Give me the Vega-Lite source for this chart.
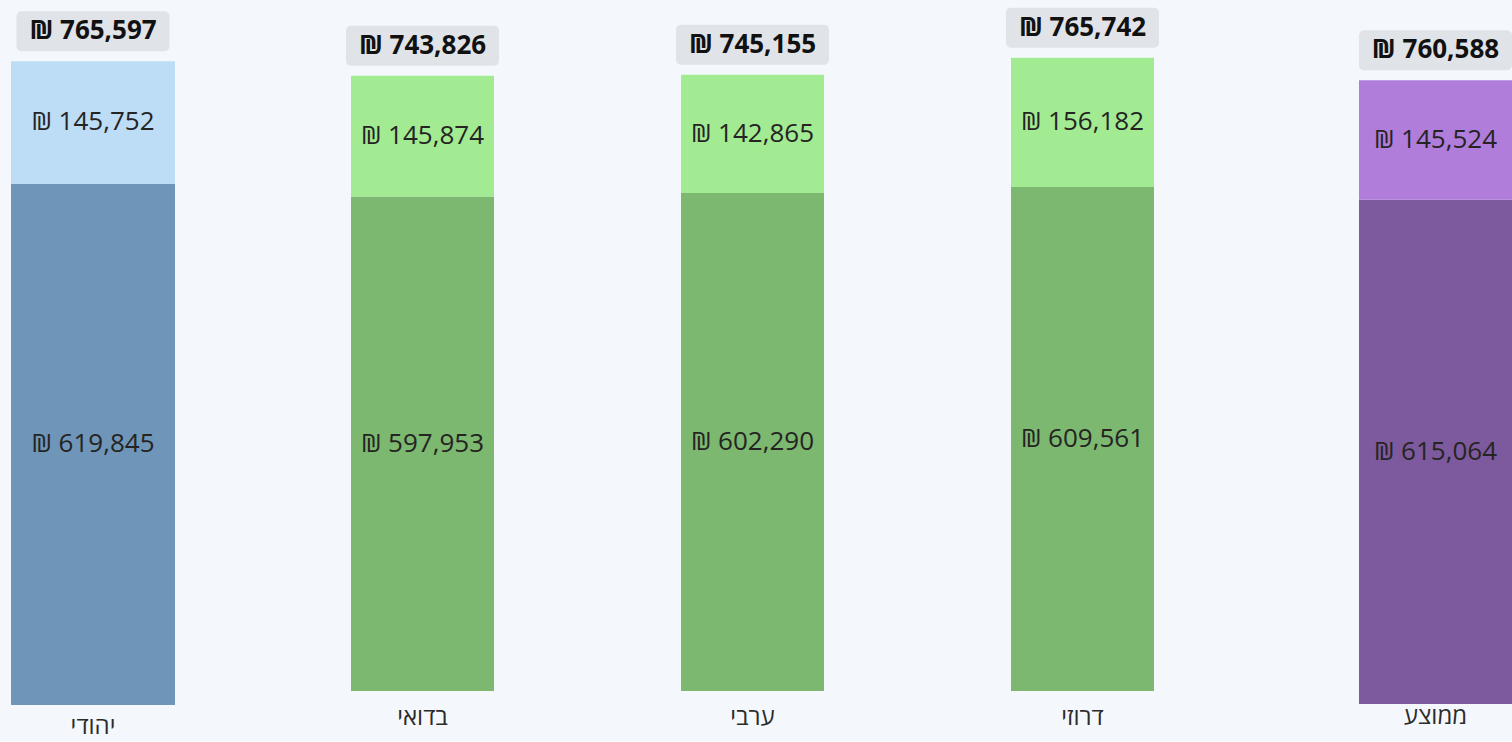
{
  "$schema": "https://vega.github.io/schema/vega-lite/v6.json",
  "padding": {"left": 0, "top": 0, "right": 0, "bottom": 3},
  "background": "#f4f8fc",
  "spacing": 71.5,
  "config": {
    "view": {"stroke": null},
    "font": "Open Sans",
    "locale": {"number": {"decimal": ".", "thousands": ",", "grouping": [3], "currency": ["₪ ", ""]}},
    "axisX": {"domain": false, "ticks": false, "grid": false, "labelFontSize": 24, "labelColor": "#2b2b2b", "labelAngle": 0, "labelFont": "Open Sans"}
  },
  "datasets": {
    "segments": [
      {"cat": "יהודי", "part": "lower", "order": 1, "value": 619845},
      {"cat": "יהודי", "part": "upper", "order": 2, "value": 145752},
      {"cat": "בדואי", "part": "lower", "order": 1, "value": 597953},
      {"cat": "בדואי", "part": "upper", "order": 2, "value": 145874},
      {"cat": "ערבי", "part": "lower", "order": 1, "value": 602290},
      {"cat": "ערבי", "part": "upper", "order": 2, "value": 142865},
      {"cat": "דרוזי", "part": "lower", "order": 1, "value": 609561},
      {"cat": "דרוזי", "part": "upper", "order": 2, "value": 156182},
      {"cat": "ממוצע", "part": "lower", "order": 1, "value": 615064},
      {"cat": "ממוצע", "part": "upper", "order": 2, "value": 145524}
    ],
    "totals": [
      {"cat": "יהודי", "total": 765597},
      {"cat": "בדואי", "total": 743826},
      {"cat": "ערבי", "total": 745155},
      {"cat": "דרוזי", "total": 765742},
      {"cat": "ממוצע", "total": 760588}
    ]
  },
  "resolve": {"scale": {"x": "independent", "y": "independent", "color": "independent"}},
  "hconcat": [
    {
      "width": 186,
      "height": 705,
      "layer": [
        {
          "data": {"name": "segments"},
          "transform": [{"filter": "datum.cat === 'יהודי'"}],
          "mark": {"type": "bar", "width": 164},
          "encoding": {
            "x": {"field": "cat", "type": "nominal", "title": null, "scale": {"paddingInner": 0, "paddingOuter": 0}, "axis": {"labelPadding": 9}},
            "y": {"field": "value", "type": "quantitative", "stack": "zero", "scale": {"domain": [0, 838288]}, "axis": null},
            "color": {"field": "part", "type": "nominal", "scale": {"domain": ["lower", "upper"], "range": ["#6f96b8", "#bddcf5"]}, "legend": null},
            "order": {"field": "order", "type": "quantitative"}
          }
        },
        {
          "data": {"name": "segments"},
          "transform": [
            {"filter": "datum.cat === 'יהודי'"},
            {"stack": "value", "groupby": ["cat"], "sort": [{"field": "order", "order": "ascending"}], "as": ["v0", "v1"]},
            {"calculate": "(datum.v0 + datum.v1) / 2", "as": "mid"}
          ],
          "mark": {"type": "text", "fontSize": 26, "color": "#252423", "baseline": "middle"},
          "encoding": {
            "x": {"field": "cat", "type": "nominal", "title": null},
            "y": {"field": "mid", "type": "quantitative", "scale": {"domain": [0, 838288]}, "axis": null},
            "text": {"field": "value", "type": "quantitative", "format": "$,d"}
          }
        },
        {
          "data": {"name": "totals"},
          "transform": [{"filter": "datum.cat === 'יהודי'"}],
          "mark": {"type": "bar", "width": 153, "yOffset": -50, "y2Offset": -10, "cornerRadius": 5, "color": "#e0e3e7"},
          "encoding": {
            "x": {"field": "cat", "type": "nominal", "title": null},
            "y": {"field": "total", "type": "quantitative", "scale": {"domain": [0, 838288]}, "axis": null},
            "y2": {"field": "total"}
          }
        },
        {
          "data": {"name": "totals"},
          "transform": [{"filter": "datum.cat === 'יהודי'"}],
          "mark": {"type": "text", "fontSize": 26, "fontWeight": "bold", "color": "#111111", "baseline": "middle", "dy": -30},
          "encoding": {
            "x": {"field": "cat", "type": "nominal", "title": null},
            "y": {"field": "total", "type": "quantitative", "scale": {"domain": [0, 838288]}, "axis": null},
            "text": {"field": "total", "type": "quantitative", "format": "$,d"}
          }
        }
      ]
    },
    {
      "width": 990,
      "height": 691,
      "layer": [
        {
          "data": {"name": "segments"},
          "transform": [{"filter": {"field": "cat", "oneOf": ["בדואי", "ערבי", "דרוזי"]}}],
          "mark": {"type": "bar", "width": 143},
          "encoding": {
            "x": {"field": "cat", "type": "nominal", "title": null, "scale": {"domain": ["בדואי", "ערבי", "דרוזי"], "paddingInner": 0, "paddingOuter": 0}, "axis": {"labelPadding": 14}},
            "y": {"field": "value", "type": "quantitative", "stack": "zero", "scale": {"domain": [0, 835550]}, "axis": null},
            "color": {"field": "part", "type": "nominal", "scale": {"domain": ["lower", "upper"], "range": ["#7cb870", "#a2eb93"]}, "legend": null},
            "order": {"field": "order", "type": "quantitative"}
          }
        },
        {
          "data": {"name": "segments"},
          "transform": [
            {"filter": {"field": "cat", "oneOf": ["בדואי", "ערבי", "דרוזי"]}},
            {"stack": "value", "groupby": ["cat"], "sort": [{"field": "order", "order": "ascending"}], "as": ["v0", "v1"]},
            {"calculate": "(datum.v0 + datum.v1) / 2", "as": "mid"}
          ],
          "mark": {"type": "text", "fontSize": 26, "color": "#252423", "baseline": "middle"},
          "encoding": {
            "x": {"field": "cat", "type": "nominal", "title": null, "scale": {"domain": ["בדואי", "ערבי", "דרוזי"]}},
            "y": {"field": "mid", "type": "quantitative", "scale": {"domain": [0, 835550]}, "axis": null},
            "text": {"field": "value", "type": "quantitative", "format": "$,d"}
          }
        },
        {
          "data": {"name": "totals"},
          "transform": [{"filter": {"field": "cat", "oneOf": ["בדואי", "ערבי", "דרוזי"]}}],
          "mark": {"type": "bar", "width": 153, "yOffset": -50, "y2Offset": -10, "cornerRadius": 5, "color": "#e0e3e7"},
          "encoding": {
            "x": {"field": "cat", "type": "nominal", "title": null, "scale": {"domain": ["בדואי", "ערבי", "דרוזי"]}},
            "y": {"field": "total", "type": "quantitative", "scale": {"domain": [0, 835550]}, "axis": null},
            "y2": {"field": "total"}
          }
        },
        {
          "data": {"name": "totals"},
          "transform": [{"filter": {"field": "cat", "oneOf": ["בדואי", "ערבי", "דרוזי"]}}],
          "mark": {"type": "text", "fontSize": 26, "fontWeight": "bold", "color": "#111111", "baseline": "middle", "dy": -30},
          "encoding": {
            "x": {"field": "cat", "type": "nominal", "title": null, "scale": {"domain": ["בדואי", "ערבי", "דרוזי"]}},
            "y": {"field": "total", "type": "quantitative", "scale": {"domain": [0, 835550]}, "axis": null},
            "text": {"field": "total", "type": "quantitative", "format": "$,d"}
          }
        }
      ]
    },
    {
      "width": 193,
      "height": 704,
      "layer": [
        {
          "data": {"name": "segments"},
          "transform": [{"filter": "datum.cat === 'ממוצע'"}],
          "mark": {"type": "bar"},
          "encoding": {
            "x": {"field": "cat", "type": "nominal", "title": null, "scale": {"paddingInner": 0, "paddingOuter": 0.1307, "align": 1}, "axis": {"labelPadding": 0}},
            "y": {"field": "value", "type": "quantitative", "stack": "zero", "scale": {"domain": [0, 858537]}, "axis": null},
            "color": {"field": "part", "type": "nominal", "scale": {"domain": ["lower", "upper"], "range": ["#7d5a9d", "#b07ddb"]}, "legend": null},
            "order": {"field": "order", "type": "quantitative"}
          }
        },
        {
          "data": {"name": "segments"},
          "transform": [
            {"filter": "datum.cat === 'ממוצע'"},
            {"stack": "value", "groupby": ["cat"], "sort": [{"field": "order", "order": "ascending"}], "as": ["v0", "v1"]},
            {"calculate": "(datum.v0 + datum.v1) / 2", "as": "mid"}
          ],
          "mark": {"type": "text", "fontSize": 26, "color": "#252423", "baseline": "middle"},
          "encoding": {
            "x": {"field": "cat", "type": "nominal", "title": null},
            "y": {"field": "mid", "type": "quantitative", "scale": {"domain": [0, 858537]}, "axis": null},
            "text": {"field": "value", "type": "quantitative", "format": "$,d"}
          }
        },
        {
          "data": {"name": "totals"},
          "transform": [{"filter": "datum.cat === 'ממוצע'"}],
          "mark": {"type": "bar", "width": 153, "yOffset": -50, "y2Offset": -10, "cornerRadius": 5, "color": "#e0e3e7"},
          "encoding": {
            "x": {"field": "cat", "type": "nominal", "title": null},
            "y": {"field": "total", "type": "quantitative", "scale": {"domain": [0, 858537]}, "axis": null},
            "y2": {"field": "total"}
          }
        },
        {
          "data": {"name": "totals"},
          "transform": [{"filter": "datum.cat === 'ממוצע'"}],
          "mark": {"type": "text", "fontSize": 26, "fontWeight": "bold", "color": "#111111", "baseline": "middle", "dy": -30},
          "encoding": {
            "x": {"field": "cat", "type": "nominal", "title": null},
            "y": {"field": "total", "type": "quantitative", "scale": {"domain": [0, 858537]}, "axis": null},
            "text": {"field": "total", "type": "quantitative", "format": "$,d"}
          }
        }
      ]
    }
  ]
}
